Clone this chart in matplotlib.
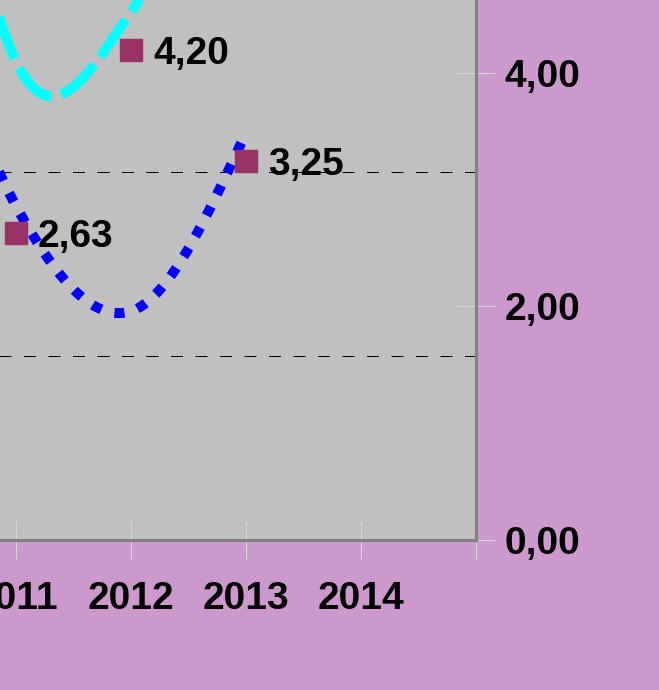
import numpy as np
import matplotlib.pyplot as plt
from matplotlib.ticker import FuncFormatter

plt.rcParams['font.family'] = ['Liberation Sans', 'DejaVu Sans']
plt.rcParams['font.weight'] = 'bold'

# category axis (the crop shows 2011-2014; last tick is the plot edge)
categories = ['2011', '2012', '2013', '2014', '']
cat_pos = [2011, 2012, 2013, 2014, 2015]

# smoothed series (values read on the right axis scale)
line_years = [2010, 2011, 2012, 2013]
blue_vals = [5.56, 2.86, 1.96, 3.49]
cyan_vals = [8.64, 4.10, 4.52, 6.86]

# marker series with data labels
marker_years = [2011, 2012, 2013]
marker_vals = [2.63, 4.20, 3.25]

right_ticks = [0, 2, 4]
grid_ticks = [1, 2, 3]


def smooth(x, y, n=60):
    # Excel-like smoothed line: cubic Hermite, Catmull-Rom tangents
    x = np.asarray(x, float)
    y = np.asarray(y, float)
    m = np.zeros_like(y)
    m[1:-1] = (y[2:] - y[:-2]) / 2
    m[0] = 1.5 * (y[1] - y[0]) - 0.5 * m[1]
    m[-1] = 1.5 * (y[-1] - y[-2]) - 0.5 * m[-2]
    xs, ys = [], []
    t = np.linspace(0, 1, n)
    h00 = 2 * t**3 - 3 * t**2 + 1
    h10 = t**3 - 2 * t**2 + t
    h01 = -2 * t**3 + 3 * t**2
    h11 = t**3 - t**2
    for i in range(len(x) - 1):
        xs.append(x[i] + t * (x[i + 1] - x[i]))
        ys.append(h00 * y[i] + h10 * m[i] + h01 * y[i + 1] + h11 * m[i + 1])
    return np.concatenate(xs), np.concatenate(ys)


W, H = 659, 690
fig = plt.figure(figsize=(W / 100, H / 100), dpi=100, facecolor='#CC99CC')

# plot area extends past the left/top edge of the picture (cropped chart)
ax_left, ax_right, ax_bottom, ax_top = -444, 476, 540, -160.5
ax = fig.add_axes([ax_left / W, (H - ax_bottom) / H,
                   (ax_right - ax_left) / W, (ax_bottom - ax_top) / H])
ax.set_facecolor('#C0C0C0')
ax.set_xlim(2007, 2015)
ax.set_ylim(0, (ax_bottom - ax_top) / 184)
ax.set_yticks(grid_ticks)
ax.yaxis.grid(True, color='black', lw=0.72, linestyle=(0, (12, 12.5)))
ax.tick_params(axis='y', left=False, labelleft=False)
ax.set_xticks(cat_pos)
ax.set_xticklabels(categories)
ax.tick_params(axis='x', direction='inout', length=27.4, width=0.7,
               color='#D8D8D8', pad=16, labelsize=28)

ax2 = ax.twinx()
ax2.set_ylim(0, 6)
ax2.set_yticks(right_ticks)
ax2.yaxis.set_major_formatter(FuncFormatter(lambda v, p: f'{v:.2f}'.replace('.', ',')))
ax2.tick_params(axis='y', direction='inout', length=27.4, width=0.7,
                color='#D8D8D8', pad=7, labelsize=28)

for a in (ax, ax2):
    for s in a.spines.values():
        s.set_color('#808080')
        s.set_linewidth(2.2)

bx, by = smooth(line_years, blue_vals)
ax2.plot(bx, by, color='#0000FF', lw=7.2, linestyle=(0, (1, 1.35)),
         dash_capstyle='butt')
cx, cy = smooth(line_years, cyan_vals)
ax2.plot(cx, cy, color='#00FFFF', lw=7.2, linestyle=(0, (4.5, 1.0)),
         dash_capstyle='butt')

ax2.plot(marker_years, marker_vals, linestyle='none', marker='s',
         markersize=15.8, color='#993366', zorder=5)
for yr, v in zip(marker_years, marker_vals):
    ax2.annotate(f'{v:.2f}'.replace('.', ','), (yr, v), xytext=(15.8, -10.1),
                 textcoords='offset points', ha='left', va='baseline',
                 fontsize=28, fontweight='bold', color='black', zorder=6)

fig.savefig('out.png', dpi=100, facecolor=fig.get_facecolor())
